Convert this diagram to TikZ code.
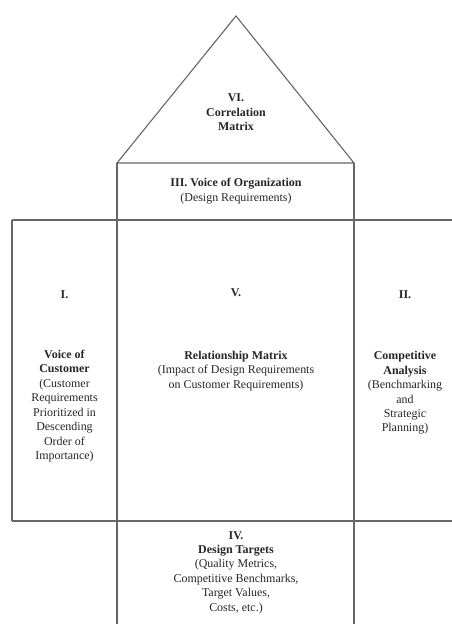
\documentclass[tikz,border=0pt]{standalone}
\usepackage{fontspec}
\setmainfont{Liberation Serif}
\begin{document}
\begin{tikzpicture}[x=1bp,y=-1bp,
  frame/.style={line width=1.1bp, draw=black!60},
  lbl/.style={font=\fontsize{12}{14.5}\selectfont, align=center, text=black!85, inner sep=0pt}]
\useasboundingbox (0,0) rectangle (452,624);
% coordinates of the house
\coordinate (apex) at (236,16);
\coordinate (bl) at (117,163);
\coordinate (br) at (354,163);
\coordinate (bld) at (117,624);
\coordinate (brd) at (354,624);
\coordinate (tl) at (12,220);
\coordinate (tr) at (452,220);
\coordinate (ll) at (12,521);
\coordinate (lr) at (452,521);
% roof
\draw[frame] (bl) -- (apex) -- (br) -- cycle;
% columns
\draw[frame] (bl) -- (bld);
\draw[frame] (br) -- (brd);
% rows
\draw[frame] (tl) -- (tr);
\draw[frame] (ll) -- (lr);
\draw[frame] (tl) -- (ll);
% texts
\node[lbl] (vi) at (236,112.5) {\textbf{VI.}\\\textbf{Correlation}\\\textbf{Matrix}};
\node[lbl] (iii) at (236,191) {\textbf{III. Voice of Organization}\\(Design Requirements)};
\node[lbl] (i) at (64.5,295) {\textbf{I.}};
\node[lbl] (itxt) at (64.5,406) {\textbf{Voice of}\\\textbf{Customer}\\(Customer\\Requirements\\Prioritized in\\Descending\\Order of\\Importance)};
\node[lbl] (ii) at (405,295) {\textbf{II.}};
\node[lbl] (iitxt) at (405,393) {\textbf{Competitive}\\\textbf{Analysis}\\(Benchmarking\\and\\Strategic\\Planning)};
\node[lbl] (v) at (236,293) {\textbf{V.}};
\node[lbl] (vtxt) at (236,371) {\textbf{Relationship Matrix}\\(Impact of Design Requirements\\on Customer Requirements)};
\node[lbl] (iv) at (236,572.5) {\textbf{IV.}\\\textbf{Design Targets}\\(Quality Metrics,\\Competitive Benchmarks,\\Target Values,\\Costs, etc.)};
\end{tikzpicture}
\end{document}
